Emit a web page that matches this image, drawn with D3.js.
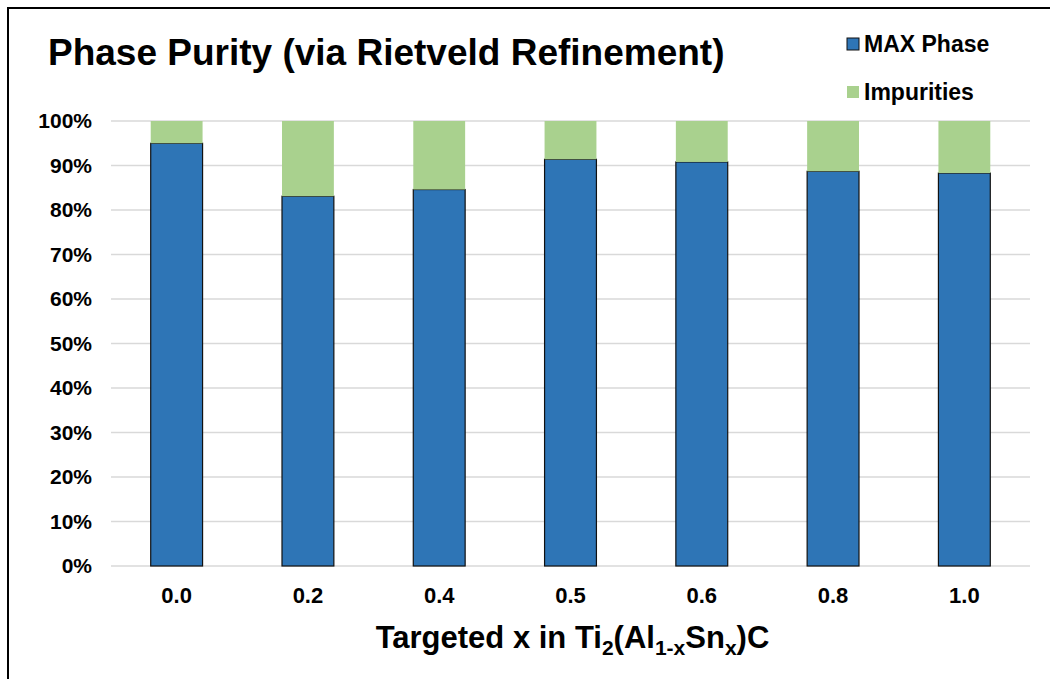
<!DOCTYPE html>
<html>
<head>
<meta charset="utf-8">
<script src="https://cdn.jsdelivr.net/npm/d3@7"></script>
<style>
  html, body { margin: 0; padding: 0; background: #fff; }
  svg { display: block; font-family: "Liberation Sans", Arial, sans-serif; }
</style>
</head>
<body>
<svg id="chart" width="1050" height="679"></svg>
<script>
// Phase fractions (%) from Rietveld refinement
const categories = ["0.0", "0.2", "0.4", "0.5", "0.6", "0.8", "1.0"];
const maxPhase = [95.0, 83.1, 84.6, 91.4, 90.8, 88.7, 88.3];
const impurities = maxPhase.map(v => +(100 - v).toFixed(1));
const seriesNames = ["MAX Phase", "Impurities"];
const yTicks = [0, 10, 20, 30, 40, 50, 60, 70, 80, 90, 100];

const colors = { "MAX Phase": "#2e75b6", "Impurities": "#a9d18e" };

const svg = d3.select("#chart");
const W = 1050, H = 679;
const margin = { left: 111, right: 20, top: 121, bottom: 113 };
const plotW = W - margin.left - margin.right;
const plotH = H - margin.top - margin.bottom;

// outer frame
svg.append("rect")
  .attr("x", 8).attr("y", 8).attr("width", 1060).attr("height", 700)
  .attr("fill", "none").attr("stroke", "#000").attr("stroke-width", 2);

const g = svg.append("g").attr("transform", `translate(${margin.left},${margin.top})`);

const x = d3.scaleBand().domain(categories).range([0, plotW]).paddingInner(0.605).paddingOuter(0.3025);
const y = d3.scaleLinear().domain([0, 100]).range([plotH, 0]);

// gridlines
g.append("g").selectAll("line").data(yTicks).join("line")
  .attr("x1", 0).attr("x2", plotW)
  .attr("y1", d => y(d)).attr("y2", d => y(d))
  .attr("stroke", "#d9d9d9").attr("stroke-width", 1.5);

// stacked bars
const rows = categories.map((c, i) => ({ cat: c, "MAX Phase": maxPhase[i], "Impurities": impurities[i] }));
const stack = d3.stack().keys(seriesNames)(rows);

stack.forEach(layer => {
  g.append("g").selectAll("rect").data(layer).join("rect")
    .attr("x", d => x(d.data.cat))
    .attr("width", x.bandwidth())
    .attr("y", d => y(Math.min(d[1], 100)))
    .attr("height", d => y(d[0]) - y(Math.min(d[1], 100)))
    .attr("fill", colors[layer.key])
    .attr("stroke", layer.key === "MAX Phase" ? "#111" : "none")
    .attr("stroke-width", 1.2);
});

// y axis labels
const yAxis = d3.axisLeft(y).tickValues(yTicks).tickFormat(d => d + "%").tickSize(0).tickPadding(19);
const ya = g.append("g").call(yAxis);
ya.select(".domain").remove();
ya.selectAll("text").attr("font-size", 21).attr("font-weight", "bold").attr("fill", "#000")
  .attr("font-family", "Liberation Sans, Arial, sans-serif");

// x axis labels
const xAxis = d3.axisBottom(x).tickSize(0).tickPadding(21);
const xa = g.append("g").attr("transform", `translate(0,${plotH})`).call(xAxis);
xa.select(".domain").remove();
xa.selectAll("text").attr("font-size", 22).attr("font-weight", "bold").attr("fill", "#000")
  .attr("font-family", "Liberation Sans, Arial, sans-serif");

// axis title with subscripts
const xt = svg.append("text")
  .attr("x", margin.left + plotW / 2 + 2).attr("y", 648)
  .attr("text-anchor", "middle")
  .attr("font-size", 31).attr("font-weight", "bold").attr("fill", "#000");
xt.append("tspan").text("Targeted x in Ti");
xt.append("tspan").attr("font-size", 21).attr("dy", 7).text("2");
xt.append("tspan").attr("dy", -7).text("(Al");
xt.append("tspan").attr("font-size", 21).attr("dy", 7).text("1-x");
xt.append("tspan").attr("dy", -7).text("Sn");
xt.append("tspan").attr("font-size", 21).attr("dy", 7).text("x");
xt.append("tspan").attr("dy", -7).text(")C");

// chart title
svg.append("text")
  .attr("x", 48).attr("y", 65)
  .attr("font-size", 37).attr("font-weight", "bold").attr("fill", "#000")
  .text("Phase Purity (via Rietveld Refinement)");

// legend
const legend = svg.append("g");
seriesNames.forEach((name, i) => {
  const ly = 38 + i * 48;
  legend.append("rect")
    .attr("x", 847).attr("y", ly).attr("width", 12).attr("height", 12)
    .attr("fill", colors[name])
    .attr("stroke", name === "MAX Phase" ? "#111" : "none").attr("stroke-width", 1);
  legend.append("text")
    .attr("x", 864).attr("y", ly + 14)
    .attr("font-size", 23).attr("font-weight", "bold").attr("fill", "#000")
    .text(name);
});
</script>
</body>
</html>
